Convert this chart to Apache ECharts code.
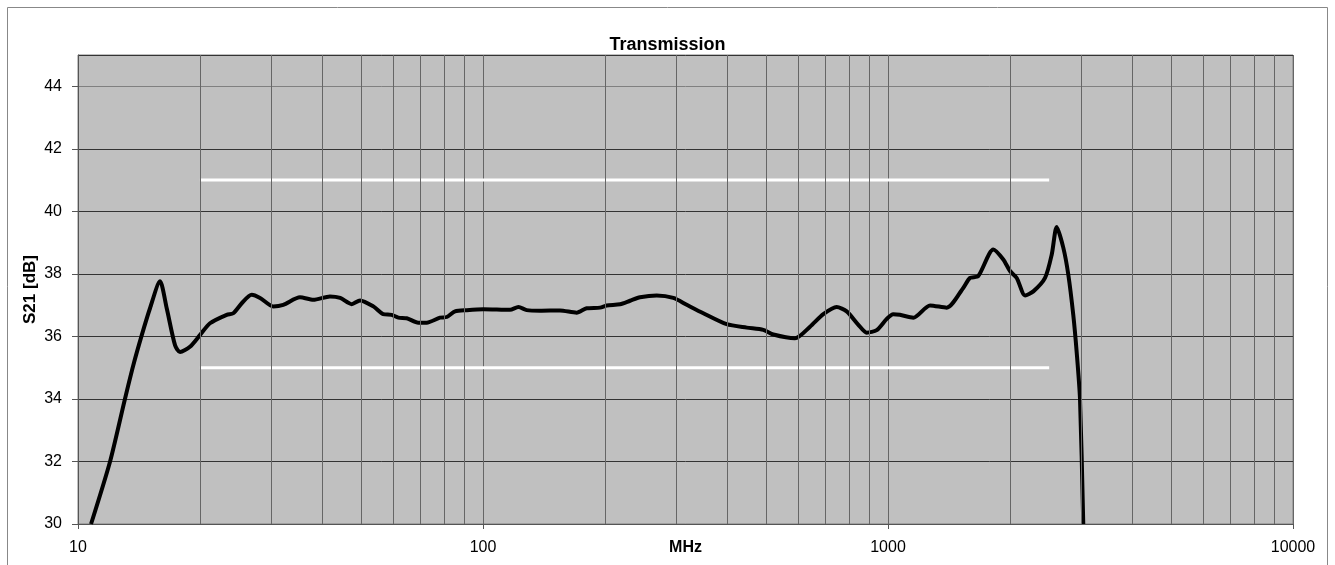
<!DOCTYPE html>
<html>
<head>
<meta charset="utf-8">
<script src="https://cdn.jsdelivr.net/npm/echarts@6/dist/echarts.min.js"></script>
<style>
  html, body { margin: 0; padding: 0; background: #fff; }
  #chart { width: 1335px; height: 565px; }
</style>
</head>
<body>
<div id="chart"></div>
<script>
var freqMHz = [10.77, 12.0, 13.06, 13.69, 14.37, 15.06, 15.94, 16.56, 17.36, 17.86,
  18.9, 20.0, 21.18, 23.29, 24.18, 25.37, 26.85, 28.15, 30.35, 32.13,
  35.33, 38.11, 41.9, 44.4, 47.4, 49.7, 53.6, 56.7, 59.5, 61.8,
  64.8, 69.2, 72.6, 78.3, 81.4, 85.3, 91.2, 100.2, 116.6, 122.3,
  128.2, 138.3, 154.9, 170.3, 180.3, 194.5, 202, 218, 230.7, 244.2,
  268.5, 295.1, 318.4, 349.9, 399.6, 447.9, 492.2, 521.2, 589.3, 641.9,
  692.3, 746.8, 790.7, 844.9, 886.1, 937.9, 993, 1030, 1070, 1155,
  1270, 1396, 1534, 1594, 1671, 1820, 1926, 2001, 2079, 2180,
  2285, 2442, 2537, 2609, 2709, 2787, 2867, 2923, 2979, 3035];
var s21dB = [30.0, 32.0, 34.0, 35.07, 36.04, 36.9, 37.76, 36.9, 35.72, 35.5,
  35.67, 36.04, 36.42, 36.69, 36.74, 37.06, 37.33, 37.23, 36.96, 37.01,
  37.25, 37.17, 37.28, 37.23, 37.03, 37.15, 36.96, 36.71, 36.69, 36.6,
  36.58, 36.44, 36.44, 36.6, 36.62, 36.8, 36.84, 36.87, 36.85, 36.94,
  36.84, 36.82, 36.83, 36.76, 36.9, 36.92, 36.99, 37.03, 37.14, 37.25,
  37.31, 37.23, 37.01, 36.74, 36.39, 36.28, 36.21, 36.06, 35.94, 36.31,
  36.71, 36.94, 36.8, 36.37, 36.12, 36.2, 36.56, 36.71, 36.69, 36.6,
  36.99, 36.92, 37.55, 37.87, 37.93, 38.78, 38.46, 38.09, 37.87, 37.31,
  37.44, 37.87, 38.62, 39.5, 38.84, 37.98, 36.69, 35.5, 34.0, 30.0];

// tolerance limits
var limitFreq = [20, 2500];
var upperLimit = [41, 41];
var lowerLimit = [35, 35];

// log grid lines between decades
var minorGridFreq = [20, 30, 40, 50, 60, 70, 80, 90,
  200, 300, 400, 500, 600, 700, 800, 900,
  2000, 3000, 4000, 5000, 6000, 7000, 8000, 9000];

var font = '"Liberation Sans", Arial, sans-serif';

function pairs(xs, ys) {
  return xs.map(function (x, i) { return [x, ys[i]]; });
}

var chart = echarts.init(document.getElementById('chart'));
chart.setOption({
  animation: false,
  title: {
    text: 'Transmission',
    left: 'center',
    top: 31,
    textStyle: { fontFamily: font, fontSize: 18, fontWeight: 'bold', color: '#000' }
  },
  graphic: [{
    type: 'rect',
    shape: { x: 7.5, y: 7.5, width: 1320, height: 600 },
    style: { fill: 'none', stroke: '#888', lineWidth: 1 },
    silent: true
  }],
  grid: {
    left: 78, top: 55, right: 42, bottom: 41,
    outerBoundsMode: 'none',
    containLabel: false,
    show: true,
    backgroundColor: '#c0c0c0',
    borderColor: '#808080',
    borderWidth: 1
  },
  xAxis: {
    type: 'log',
    logBase: 10,
    min: 10,
    max: 10000,
    name: 'MHz',
    nameLocation: 'middle',
    nameGap: 16,
    nameMoveOverlap: false,
    nameTextStyle: { fontFamily: font, fontSize: 16, fontWeight: 'bold', color: '#000', verticalAlign: 'top' },
    axisLine: { lineStyle: { color: '#555', width: 1 } },
    axisTick: { show: true, length: 5, lineStyle: { color: '#555' } },
    axisLabel: {
      fontFamily: font, fontSize: 16, color: '#000', margin: 16,
      formatter: function (v) { return String(Math.round(v)); }
    },
    splitLine: { show: true, lineStyle: { color: '#666', width: 1 } }
  },
  yAxis: {
    type: 'value',
    min: 30,
    max: 45,
    interval: 2,
    name: 'S21 [dB]',
    nameLocation: 'middle',
    nameRotate: 90,
    nameGap: 39,
    nameMoveOverlap: false,
    nameTextStyle: { fontFamily: font, fontSize: 17, fontWeight: 'bold', color: '#000' },
    axisLine: { show: true, lineStyle: { color: '#555', width: 1 } },
    axisTick: { show: true, length: 6, lineStyle: { color: '#555' } },
    axisLabel: {
      fontFamily: font, fontSize: 16, color: '#000', margin: 16,
      showMaxLabel: false
    },
    splitLine: {
      show: true,
      lineStyle: { color: ['#333', '#333', '#333', '#333', '#333', '#333', '#333', '#808080'], width: 1 }
    }
  },
  series: [
    {
      name: 'grid',
      type: 'line',
      data: [],
      silent: true,
      markLine: {
        silent: true,
        symbol: 'none',
        label: { show: false },
        lineStyle: { color: '#666', width: 1, type: 'solid' },
        data: minorGridFreq.map(function (f) { return { xAxis: f }; })
      }
    },
    {
      name: 'upper',
      type: 'line',
      data: pairs(limitFreq, upperLimit),
      symbol: 'none',
      lineStyle: { color: '#fff', width: 3 },
      z: 3
    },
    {
      name: 'lower',
      type: 'line',
      data: pairs(limitFreq, lowerLimit),
      symbol: 'none',
      lineStyle: { color: '#fff', width: 3 },
      z: 3
    },
    {
      name: 'S21',
      type: 'line',
      data: pairs(freqMHz, s21dB),
      symbol: 'none',
      smooth: 0.25,
      lineStyle: { color: '#000', width: 4 },
      z: 4
    }
  ]
});
</script>
</body>
</html>
